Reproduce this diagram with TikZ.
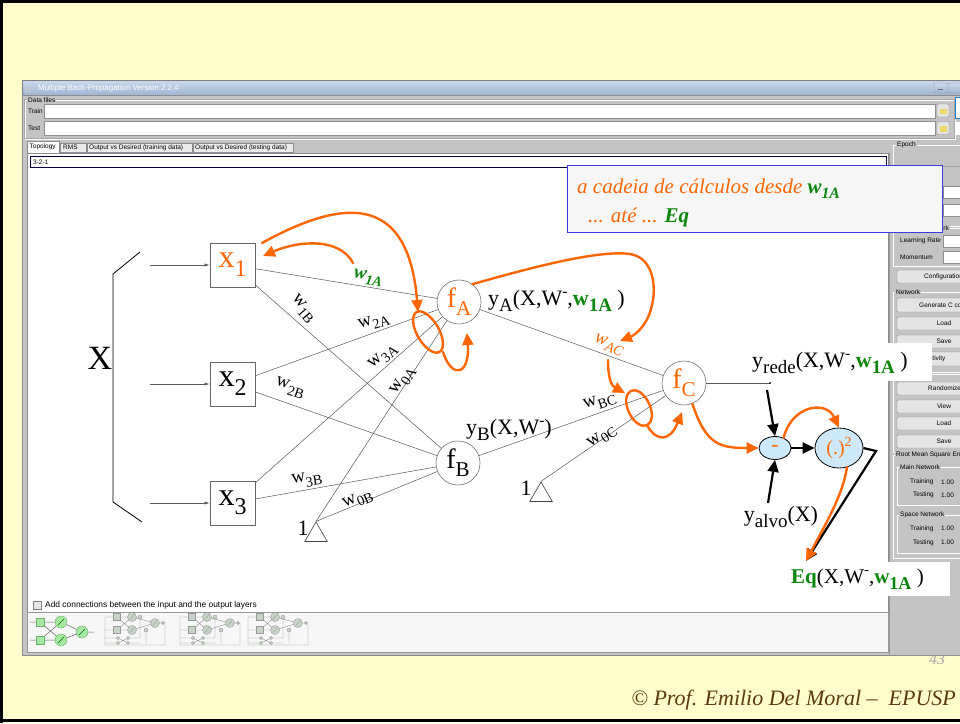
\documentclass[tikz,border=0pt]{standalone}
\usepackage{fontspec}
\setmainfont{Liberation Serif}
\newfontfamily\uifont{Liberation Sans}
\usetikzlibrary{shapes.geometric,arrows.meta}

\definecolor{slidebg}{HTML}{FFFDCC}
\definecolor{winbg}{HTML}{C4C4C4}
\definecolor{titletop}{HTML}{C9D9ED}
\definecolor{titlebot}{HTML}{A0B7D3}
\definecolor{orng}{HTML}{FF6600}
\definecolor{grn}{HTML}{0A860A}
\definecolor{brn}{HTML}{5C3A10}
\definecolor{opfill}{HTML}{CDE9F9}
\definecolor{notebg}{HTML}{F6F6F6}
\definecolor{noteedge}{HTML}{3A3AE6}
\definecolor{btnfill}{HTML}{E4E4E4}
\definecolor{fieldedge}{HTML}{8E8E8E}
\definecolor{thumbfill}{HTML}{C6D3C6}
\definecolor{thumbgreen}{HTML}{A6E8A0}

\newcommand\fsz[1]{\fontsize{#1}{#1}\selectfont}
% small lowered index (weights, node names)
\newcommand\lowtx[1]{\raisebox{-0.28em}{\scalebox{0.75}{#1}}}
% larger lowered index (signal expressions)
\newcommand\lowbig[1]{\raisebox{-0.3em}{\scalebox{0.86}{#1}}}
\newcommand\hightx[1]{\raisebox{0.42em}{\scalebox{0.7}{#1}}}
\newcommand\gw{{\color{grn}\bfseries w\lowbig{1A}}}

\tikzset{
  pics/netthumb/.style={code={
    \draw[black!45, line width=0.4pt] (0,5) -- (0,33) -- (60,33) -- (60,11)
      (0,5) -- (9,5) (0,18) -- (9,18)
      (12,5) -- (27,18) (12,18) -- (27,5) (12,5) -- (27,5) (12,18) -- (27,18)
      (27,5) -- (50,11) (27,18) -- (50,11) (50,11) -- (58,11)
      (0,26) -- (13,26) (0,31) -- (13,31)
      (13,26) -- (23,31) (13,31) -- (23,26) (23,26) -- (35,26) (23,31) -- (35,31)
      (35,5) -- (35,26) (41,18) -- (41,31);
    \foreach \yy in {5,18} {
      \draw[black!40, fill=thumbfill] (8.5,\yy-3.5) rectangle (15.5,\yy+3.5);
      \draw[black!40, fill=thumbfill] (27,\yy) circle (4.5pt);
      \draw[black!40] (25,\yy+2.5) -- (29,\yy-2.5);
    }
    \draw[black!40, fill=thumbfill] (35,5) circle (2pt) (41,18) circle (2pt);
    \draw[black!40, fill=thumbfill] (50,11) circle (4.5pt);
    \draw[black!40] (48,13.5) -- (52,8.5);
    \draw[black!40, fill=thumbfill] (58,11) circle (1.5pt);
    \foreach \xx/\yy in {13/26,13/31,23/26,23/31}
      \draw[black!40, fill=thumbfill] (\xx,\yy) circle (1.6pt);
  }}
}

\begin{document}
\begin{tikzpicture}[x=1pt,y=-1pt,
  ui/.style={font=\uifont\fsz{6.5}, inner sep=0pt},
  button/.style={draw=black!45, fill=btnfill, rounded corners=1pt},
  field/.style={draw=fieldedge, fill=white},
  group/.style={draw=white, line width=0.6pt},
  inbox/.style={draw=black!60, line width=0.6pt, fill=white, minimum width=45pt,
    minimum height=44pt, inner sep=0pt, font=\fsz{32}},
  neuron/.style={circle, draw=black!55, line width=0.6pt, fill=white,
    minimum size=44pt, inner sep=0pt, font=\fsz{28}},
  bias/.style={regular polygon, regular polygon sides=3, draw=black!75,
    line width=0.6pt, minimum size=26pt, inner sep=0pt},
  wire/.style={draw=black!65, line width=0.5pt},
  wlabel/.style={font=\fsz{19}, inner sep=0pt},
  chain/.style={draw=orng, line width=2.4pt, line cap=round,
    -{Triangle[length=12pt,width=11pt]}},
  ring/.style={draw=orng, line width=2.4pt},
  flow/.style={draw=black, line width=2.2pt, -{Triangle[length=12pt,width=11pt]}},
  op/.style={ellipse, draw=black, line width=0.8pt, fill=opfill, inner sep=0pt, text=orng},
  expr/.style={font=\fsz{22}, inner sep=0pt},
]
\useasboundingbox (0,0) rectangle (960,723);
\clip (0,0) rectangle (960,723);

% ---------- slide background ----------
\fill[slidebg] (0,0) rectangle (960,723);
\node[font=\fsz{16}\itshape, text=black!35] (pageno) at (937,659) {43};

% ---------- application window ----------
\shade[top color=titletop, bottom color=titlebot] (22,80) rectangle (964,95);
\draw[black!50] (22,80) rectangle (964,95);
\foreach \yy in {85,88,91} \fill[white!80!black] (26,\yy) rectangle (27.5,\yy+1.5) (29,\yy) rectangle (30.5,\yy+1.5);
\node[ui, font=\uifont\fsz{7.9}, text=white, anchor=west] (title) at (38,88) {Multiple Back-Propagation Version 2.2.4};
\draw[black!40, top color=titletop, bottom color=titlebot, rounded corners=1pt] (934,83) rectangle (947,93);
\draw[black!60] (938,89) -- (943,89);
\draw[black!40, top color=titletop, bottom color=titlebot, rounded corners=1pt] (949,83) rectangle (964,93);
\fill[winbg] (22,95) rectangle (964,655);
\draw[black!45] (22,95) rectangle (964,655);

% data files group
\draw[group] (25,100) rectangle (955,139);
\draw[black!35] (24.5,99.5) rectangle (954.5,138.5);
\node[ui, fill=winbg, anchor=west, inner xsep=1pt] (datafiles) at (27,100) {Data files};
\node[ui, anchor=west] (trainlbl) at (28,111) {Train};
\draw[field] (44,104) rectangle (935,118);
\node[ui, anchor=west] (testlbl) at (28,128.5) {Test};
\draw[field] (44,121.5) rectangle (935,135.5);
\foreach \yy in {104,121.5} {
  \draw[button] (937,\yy) rectangle (949,\yy+13);
  \fill[yellow!60!brown!70!white] (939.5,\yy+4.5) rectangle (946.5,\yy+10);
}
\draw[cyan!60!blue, fill=white] (955,97) rectangle (966,118);
\fill[white] (955,122) rectangle (966,135);

% tabs
\draw[black!45, fill=white] (27,141) rectangle (59,153);
\node[ui, anchor=west] (tabtopo) at (29.5,147) {Topology};
\draw[black!45, fill=black!8] (60,143) rectangle (86,152);
\node[ui, anchor=west] (tabrms) at (63,147.5) {RMS};
\draw[black!45, fill=black!8] (87,143) rectangle (192,152);
\node[ui, anchor=west] (tabtrain) at (89,147.5) {Output vs Desired (training data)};
\draw[black!45, fill=black!8] (193,143) rectangle (293,152);
\node[ui, anchor=west] (tabtest) at (195,147.5) {Output vs Desired (testing data)};

% topology panel
\draw[black!45, fill=white] (27,153) rectangle (888,612);
\draw[black!75!blue, fill=white] (30,156) rectangle (886,167.5);
\node[ui, anchor=west] (topo) at (33,162) {3-2-1};
\draw[black!50, fill=black!10] (33,601) rectangle (41,609);
\node[ui, font=\uifont\fsz{8.4}, anchor=west] (addconn) at (45,605.5) {Add connections between the input and the output layers};
\draw[black!40, fill=black!3] (27,612) rectangle (888,652);

% layout thumbnails
\begin{scope}[shift={(30,612)}]
  \draw[black!60, line width=0.5pt] (0,10) -- (10,10) (0,28) -- (10,28)
    (10,10) -- (31,10) (10,28) -- (31,28) (10,10) -- (31,28) (10,28) -- (31,10)
    (31,10) -- (52,20) (31,28) -- (52,20) (52,20) -- (64,20);
  \foreach \yy in {10,28} {
    \draw[green!50!black!60, fill=thumbgreen] (6,\yy-4) rectangle (14,\yy+4);
    \draw[green!50!black!60, fill=thumbgreen] (31,\yy) circle (6pt);
    \draw[green!40!black] (28,\yy+3) -- (34,\yy-3);
  }
  \draw[green!50!black!60, fill=thumbgreen] (52,20) circle (6pt);
  \draw[green!40!black] (49,23) -- (55,17);
\end{scope}
\pic at (105,612) {netthumb};
\pic at (180,612) {netthumb};
\pic at (248,612) {netthumb};

% right-hand control column
\draw[black!40] (889.5,153) -- (889.5,655);
\draw[group] (893,145) rectangle (966,226);
\node[ui, fill=winbg, anchor=west, inner xsep=1pt] (epoch) at (896,145) {Epoch};
\draw[black!35] (893,166) -- (966,166);
\draw[field] (943,186) rectangle (966,198);
\draw[field] (943,204) rectangle (966,216);
\draw[group] (893,228) rectangle (966,266);
\node[ui, fill=winbg, anchor=east, inner xsep=1pt] (learngrp) at (950,228) {Network};
\node[ui, anchor=west] (lrate) at (900,241) {Learning Rate};
\draw[field] (943,235) rectangle (966,247);
\node[ui, anchor=west] (mom) at (900,257.5) {Momentum};
\draw[field] (943,251.5) rectangle (966,263.5);
\draw[button] (897,270) rectangle (966,283);
\node[ui, anchor=west] (cfg) at (924,276.5) {Configuration};
\draw[group] (893,292) rectangle (966,372);
\node[ui, fill=winbg, anchor=west, inner xsep=1pt] (netgrp) at (895,292) {Network};
\draw[button] (897,298) rectangle (966,312);
\node[ui, anchor=west] (gencode) at (919,305) {Generate C code};
\draw[button] (897,317) rectangle (966,330);
\node[ui] (load1) at (944,323.5) {Load};
\draw[button] (897,335) rectangle (966,348);
\node[ui] (save1) at (944,341.5) {Save};
\draw[button] (897,352) rectangle (966,366);
\node[ui, anchor=west] (sens) at (916,359) {Sensitivity};
\draw[group] (893,374) rectangle (966,452);
\node[ui, fill=winbg, anchor=west, inner xsep=1pt] (wgrp) at (895,374) {Weights};
\draw[button] (897,382) rectangle (966,395);
\node[ui, anchor=west] (rand) at (928,388.5) {Randomize};
\draw[button] (897,400) rectangle (966,413);
\node[ui] (view) at (944,406.5) {View};
\draw[button] (897,417) rectangle (966,430);
\node[ui] (load2) at (944,423.5) {Load};
\draw[button] (897,435) rectangle (966,448);
\node[ui] (save2) at (944,441.5) {Save};
\draw[group] (893,455) rectangle (966,558);
\node[ui, fill=winbg, anchor=west, inner xsep=1pt] (rmsgrp) at (895,455) {Root Mean Square Error};
\draw[group] (897,467) rectangle (966,505);
\node[ui, fill=winbg, anchor=west, inner xsep=1pt] (maingrp) at (899,467) {Main Network};
\node[ui, anchor=west] (tr1) at (910,482) {Training};
\node[ui, anchor=west] (tr1v) at (941,482) {1.00};
\node[ui, anchor=west] (te1) at (913,495) {Testing};
\node[ui, anchor=west] (te1v) at (941,495) {1.00};
\draw[group] (897,515) rectangle (966,553);
\node[ui, fill=winbg, anchor=west, inner xsep=1pt] (spacegrp) at (899,515) {Space Network};
\node[ui, anchor=west] (tr2) at (910,528.5) {Training};
\node[ui, anchor=west] (tr2v) at (941,528.5) {1.00};
\node[ui, anchor=west] (te2) at (913,542.5) {Testing};
\node[ui, anchor=west] (te2v) at (941,542.5) {1.00};

% ---------- network diagram ----------
\node[inbox, text=orng] (x1) at (232.5,265) {x\lowtx{1}};
\node[inbox] (x2) at (232.5,384) {x\lowtx{2}};
\node[inbox] (x3) at (232.5,503) {x\lowtx{3}};
\node[neuron, text=orng] (fA) at (459,302) {f\lowtx{A}};
\node[neuron] (fB) at (458,463) {f\lowtx{B}};
\node[neuron, text=orng] (fC) at (684,383) {f\lowtx{C}};
\node[bias] (b1) at (316,535) {};
\node[bias] (b2) at (541,495) {};
\node[font=\fsz{22}, inner sep=0pt] (one1) at (303,528) {1};
\node[font=\fsz{22}, inner sep=0pt] (one2) at (526,488) {1};

% input vector
\draw[line width=0.8pt] (140,252) -- (113,274) -- (113,502) -- (142,522);
\node[font=\fsz{34}] (X) at (100,358) {X};
\coordinate (in1) at (150,265);
\coordinate (in2) at (150,384);
\coordinate (in3) at (150,503);
\foreach \k in {1,2,3}
  \draw[wire, -{Latex[length=5pt,width=3pt]}] (in\k) -- (x\k);

% weighted connections
\draw[wire] (x1) -- (fA) (x1) -- (fB) (x2) -- (fA) (x2) -- (fB) (x3) -- (fA) (x3) -- (fB);
\draw[wire] (b1.corner 1) -- (fA) (b1.corner 1) -- (fB);
\draw[wire] (fA) -- (fC) (fB) -- (fC) (b2.corner 1) -- (fC);
\coordinate (yout) at (770,383);
\draw[wire] (fC) -- (yout);
\fill (yout) circle (1pt);

% weight labels
\node[wlabel, rotate=-9, text=grn, font=\fsz{19}\bfseries\itshape] (w1A) at (368,278) {w\lowtx{1A}};
\node[wlabel, rotate=-50] (w1B) at (303,309) {w\lowtx{1B}};
\node[wlabel, rotate=17] (w2A) at (374,322) {w\lowtx{2A}};
\node[wlabel, rotate=40] (w3A) at (383,357) {w\lowtx{3A}};
\node[wlabel, rotate=57] (w0A) at (403,381) {w\lowtx{0A}};
\node[wlabel, rotate=-19] (w2B) at (290,388) {w\lowtx{2B}};
\node[wlabel, rotate=9] (w3B) at (307,480) {w\lowtx{3B}};
\node[wlabel, rotate=23] (w0B) at (358,500) {w\lowtx{0B}};
\node[wlabel, rotate=-20, text=orng, font=\fsz{19}\itshape] (wAC) at (609,345) {w\lowtx{AC}};
\node[wlabel, rotate=18] (wBC) at (600,402) {w\lowtx{BC}};
\node[wlabel, rotate=35] (w0C) at (602,437) {w\lowtx{0C}};

% signal expressions
\node[expr, anchor=west] (yA) at (488,301) {y\lowbig{A}(X,W\hightx{-},\gw\ )};
\node[expr] (yB) at (509,430) {y\lowbig{B}(X,W\hightx{-})};
\fill[white] (746,343) rectangle (932,381);
\node[expr, anchor=west] (yrede) at (752,363) {y\lowbig{rede}(X,W\hightx{-},\gw\ )};
\node[expr] (yalvo) at (781,517) {y\lowbig{alvo}(X)};
\fill[white] (784,562) rectangle (950,596);
\node[expr, font=\fsz{21}, anchor=west] (eq) at (791,579) {{\color{grn}\bfseries Eq}(X,W\hightx{-},\gw\ )};

% error computation
\node[op, minimum width=32pt, minimum height=23pt, font=\fsz{22}] (mn) at (775,448) {-};
\node[op, minimum width=48pt, minimum height=40pt, font=\fsz{20}] (sq) at (839,448) {(.)\hightx{2}};
\coordinate (ytop) at (767,390);
\coordinate (ybot) at (768,503);
\coordinate (bend) at (876,451);
\coordinate (eqtip) at (806,561);
\draw[flow] (ytop) -- (mn.north);
\draw[flow] (ybot) -- (mn.south);
\draw[flow] (mn) -- (sq);
\draw[flow, line join=miter] (sq.east) -- (bend) -- (eqtip);

% chain of computations (orange)
\coordinate (c1s) at (353,263);
\coordinate (c1e) at (263,256);
\draw[chain] (c1s) .. controls (340,238) and (300,240) .. (c1e);
\coordinate (c2s) at (262,243);
\coordinate (c2e) at (418,312);
\draw[chain] (c2s) .. controls (340,200) and (408,190) .. (c2e);
\draw[ring, rotate around={30:(428,332)}] (428,332) ellipse [x radius=11pt, y radius=23pt];
\coordinate (c3s) at (443,352);
\coordinate (c3e) at (467,333);
\draw[chain] (c3s) .. controls (452,380) and (470,375) .. (c3e);
\coordinate (c4e) at (620,341);
\draw[chain] (fA.53) .. controls (540,265) and (600,250) .. (630,254)
  .. controls (655,258) and (656,290) .. (652,305)
  .. controls (648,325) and (635,335) .. (c4e);
\coordinate (c5s) at (608,360);
\coordinate (c5e) at (625,393);
\draw[chain] (c5s) .. controls (608,380) and (612,386) .. (c5e);
\draw[ring, rotate around={25:(639,408)}] (639,408) ellipse [x radius=11pt, y radius=19pt];
\coordinate (c6s) at (647,425);
\coordinate (c6e) at (682,412);
\draw[chain] (c6s) .. controls (656,442) and (670,442) .. (c6e);
\draw[chain] (fC.-68) .. controls (706,445) and (720,448) .. (mn.west);
\draw[chain] (mn.50) .. controls (792,405) and (826,400) .. (sq.north);
\coordinate (c7s) at (847,467);
\draw[chain] (c7s) .. controls (843,495) and (825,525) .. (eqtip);

% note box
\node[draw=noteedge, fill=notebg, line width=1pt, minimum width=375pt,
  minimum height=67pt, anchor=north west, inner sep=0pt] (note) at (567,165) {};
\node[anchor=base west, font=\fsz{21}\itshape, text=orng, inner sep=0pt] (note1) at (577,193)
  {a cadeia de cálculos desde {\color{grn}\bfseries w\lowtx{1A}}};
\node[anchor=base west, font=\fsz{21}\itshape, text=orng, inner sep=0pt] (note2) at (588,222)
  {... até ... {\color{grn}\bfseries Eq}};

% footer and slide frame
\node[anchor=base east, font=\fsz{22}\itshape, text=brn, inner sep=0pt] (footer) at (956,705)
  {© Prof. Emilio Del Moral –\ \ EPUSP};
\draw[line width=3pt] (1.5,723) -- (1.5,1.5) -- (960,1.5);
\draw[line width=3pt] (0,720.5) -- (960,720.5);
\end{tikzpicture}
\end{document}
